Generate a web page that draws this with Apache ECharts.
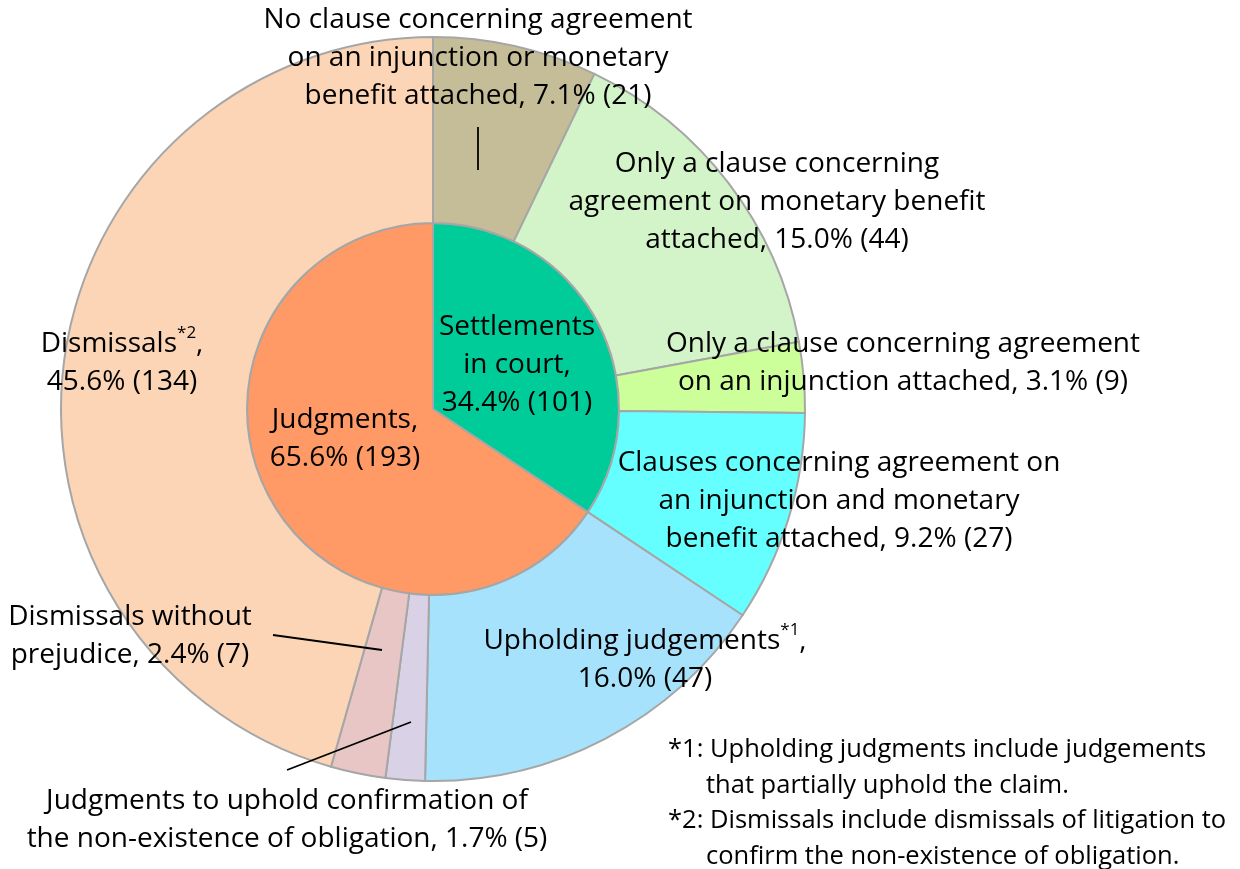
<!DOCTYPE html>
<html>
<head>
<meta charset="utf-8">
<script src="https://cdn.jsdelivr.net/npm/echarts@6/dist/echarts.min.js"></script>
<style>
    html, body {margin: 0; padding: 0; background: #fff;}
    #chart {width: 1240px; height: 869px;}
</style>
</head>
<body>
<div id="chart"></div>
<script>
// inner ring: case outcome (label text before the percentage)
const inner_names = ['Settlements\nin court,\n', 'Judgments,\n'];
const inner_values = [101, 193];
const inner_colors = ['#00CC99', '#FF9966'];

// outer ring: breakdown, clockwise from top
const outer_names = [
    'No clause concerning agreement\non an injunction or monetary\nbenefit attached, ',
    'Only a clause concerning\nagreement on monetary benefit\nattached, ',
    'Only a clause concerning agreement\non an injunction attached, ',
    'Clauses concerning agreement on\nan injunction and monetary\nbenefit attached, ',
    'Upholding judgements{sup|*1},\n',
    'Judgments to uphold confirmation of\nthe non-existence of obligation, ',
    'Dismissals without\nprejudice, ',
    'Dismissals{sup|*2},\n'
];
const outer_values = [21, 44, 9, 27, 47, 5, 7, 134];
const outer_colors = ['#C4BD97', '#D3F3C8', '#CCFF99', '#66FFFF', '#A6E2FB', '#D9D1E6', '#E8C6C6', '#FBD5B5'];

const footnotes = [
    '*1: Upholding judgments include judgements',
    'that partially uphold the claim.',
    '*2: Dismissals include dismissals of litigation to',
    'confirm the non-existence of obligation.'
];

const total = outer_values.reduce((a, b) => a + b, 0);

// label centres [x, y]
const inner_label_pos = [[517, 365], [345, 439]];
const outer_label_pos = [[478, 58], [777, 202], [903, 363], [839, 501], [645, 660], [287, 820], [130, 636], [122, 363]];
// leader lines
const leader_lines = [
    [[478, 127], [478, 170]],
    [[287, 770], [411, 722]],
    [[273, 635], [382, 650]]
];
const footnote_x = [668, 706, 668, 706];

const font = '"Open Sans", sans-serif';

function fmt(p) {
    return p.name + (p.value / total * 100).toFixed(1) + '% (' + p.value + ')';
}

let chart = echarts.init(document.getElementById('chart'), null, {renderer: 'canvas'});
let option = {
    animation: false,
    series: [{
        type: 'pie',
        center: [433, 409],
        radius: [0, 186],
        startAngle: 90,
        clockwise: true,
        avoidLabelOverlap: false,
        itemStyle: {borderColor: '#A6A6A6', borderWidth: 2},
        label: {
            position: 'inside', color: '#000', fontSize: 28, fontFamily: font,
            lineHeight: 38, align: 'center', formatter: fmt
        },
        labelLayout: function (p) {
            const pos = inner_label_pos[p.dataIndex];
            return {x: pos[0], y: pos[1], align: 'center', verticalAlign: 'middle'};
        },
        data: inner_names.map((n, i) => ({name: n, value: inner_values[i], itemStyle: {color: inner_colors[i]}}))
    }, {
        type: 'pie',
        center: [433, 409],
        radius: [186, 372],
        startAngle: 90,
        clockwise: true,
        avoidLabelOverlap: false,
        itemStyle: {borderColor: '#A6A6A6', borderWidth: 2},
        label: {
            position: 'inside', color: '#000', fontSize: 28, fontFamily: font,
            lineHeight: 38, align: 'center', formatter: fmt,
            rich: {sup: {fontSize: 17, fontFamily: font, color: '#000', verticalAlign: 'top', lineHeight: 30}}
        },
        labelLine: {show: false},
        labelLayout: function (p) {
            const pos = outer_label_pos[p.dataIndex];
            return {x: pos[0], y: pos[1], align: 'center', verticalAlign: 'middle'};
        },
        data: outer_names.map((n, i) => ({name: n, value: outer_values[i], itemStyle: {color: outer_colors[i]}}))
    }],
    graphic: leader_lines.map(pts => ({
        type: 'polyline', z: 100,
        shape: {points: pts},
        style: {stroke: '#000', lineWidth: 1.8}
    })).concat(footnotes.map((t, i) => ({
        type: 'text', x: footnote_x[i], y: 750 + i * 35.5, z: 100,
        style: {text: t, fontSize: 25.5, fontFamily: font, fill: '#000', verticalAlign: 'middle'}
    })))
};
chart.setOption(option);
</script>
</body>
</html>
